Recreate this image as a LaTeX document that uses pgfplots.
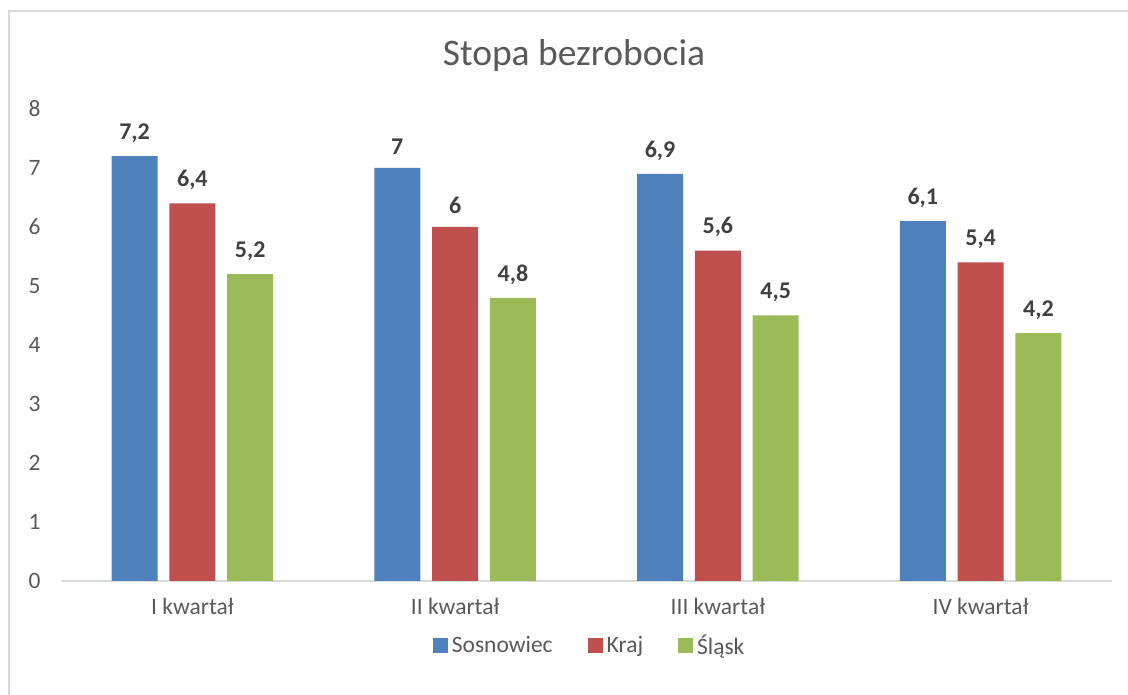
\documentclass[border=0pt]{standalone}
\usepackage{pgfplots}
\pgfplotsset{compat=1.18}
\usepackage{fontspec}
\setmainfont{Carlito}
\definecolor{cblue}{HTML}{4F81BD}
\definecolor{cred}{HTML}{C0504D}
\definecolor{cgreen}{HTML}{9BBB59}
\definecolor{txt}{HTML}{595959}
\definecolor{lbl}{HTML}{404040}
\definecolor{axgray}{HTML}{D9D9D9}
\begin{document}
\begin{tikzpicture}[x=1pt,y=1pt]
\path[use as bounding box] (0,0) rectangle (1128,695);
\draw[color=axgray, line width=1.5pt] (9,0) -- (9,684) -- (1128,684);
\node[anchor=base, text=txt, font=\fontsize{37.5}{37.5}\selectfont] at (574,629) {Stopa bezrobocia};
\begin{axis}[
  at={(61pt,114pt)}, anchor=south west,
  scale only axis, width=1051pt, height=472pt,
  ybar,
  xmin=-0.5, xmax=3.5, ymin=0, ymax=8,
  ytick={0,1,...,8}, xtick={0,1,2,3},
  xticklabels={I kwartał, II kwartał, III kwartał, IV kwartał},
  axis x line*=bottom, axis y line*=left,
  x axis line style={draw=axgray, line width=1.5pt, -},
  y axis line style={draw=none},
  major tick length=0pt,
  /pgf/number format/assume math mode=true,
  /pgf/number format/use comma,
  ticklabel style={font=\fontsize{23.5}{23.5}\selectfont, text=txt},
  yticklabel style={xshift=-17pt},
  xticklabel style={yshift=-14pt},
  nodes near coords,
  every node near coord/.append style={font=\bfseries\fontsize{24}{24}\selectfont, text=lbl, yshift=10pt},
  legend style={at={(0.503,-0.1356)}, anchor=center, legend columns=-1, draw=none,
    font=\fontsize{23.5}{23.5}\selectfont, text=txt,
    /tikz/every odd column/.append style={column sep=2pt},
    /tikz/every even column/.append style={column sep=33pt}},
  legend image code/.code={\fill[#1] (0pt,-7.5pt) rectangle (15pt,7.5pt);},
]
\addplot[fill=cblue, draw=none, bar width=0.175, bar shift=-0.22] coordinates {(0,7.2) (1,7) (2,6.9) (3,6.1)};
\addplot[fill=cred, draw=none, bar width=0.175, bar shift=0] coordinates {(0,6.4) (1,6) (2,5.6) (3,5.4)};
\addplot[fill=cgreen, draw=none, bar width=0.175, bar shift=0.22] coordinates {(0,5.2) (1,4.8) (2,4.5) (3,4.2)};
\legend{Sosnowiec, Kraj, Śląsk}
\end{axis}
\end{tikzpicture}
\end{document}
